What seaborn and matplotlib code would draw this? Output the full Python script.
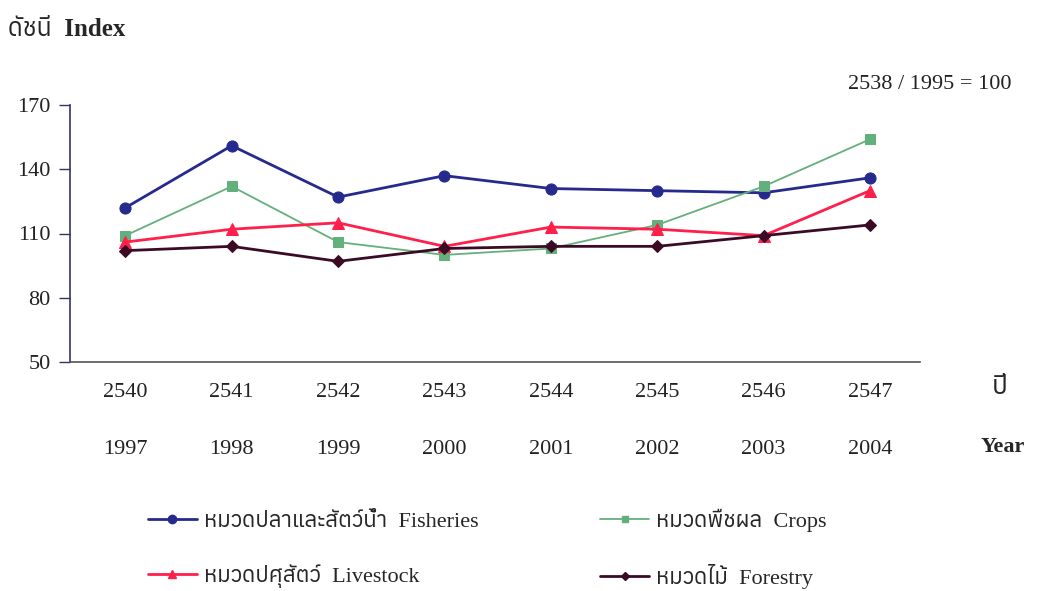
import matplotlib
matplotlib.use("Agg")
import matplotlib.pyplot as plt
import matplotlib.transforms as mtransforms
from matplotlib import font_manager
import seaborn as sns
import pandas as pd

# values (2538 / 1995 = 100)
years_be = [2540, 2541, 2542, 2543, 2544, 2545, 2546, 2547]
years_ad = [1997, 1998, 1999, 2000, 2001, 2002, 2003, 2004]
fisheries = [122, 151, 127, 137, 131, 130, 129, 136]
crops = [109, 132, 106, 100, 103, 114, 132, 154]
livestock = [106, 112, 115, 104, 113, 112, 109, 130]
forestry = [102, 104, 97, 103, 104, 104, 109, 114]

labels = {
    "fish": "หมวดปลาและสัตว์น้ำ  Fisheries",
    "crops": "หมวดพืชผล  Crops",
    "live": "หมวดปศุสัตว์  Livestock",
    "forest": "หมวดไม้  Forestry",
}
colors = {"fish": "#262a8c", "crops": "#63b07c", "live": "#ff1f4b", "forest": "#3b0b25"}
markers = {"fish": "o", "crops": "s", "live": "^", "forest": "D"}
widths = {"fish": 2.0, "crops": 1.3, "live": 2.0, "forest": 2.0}
msizes = {"fish": 8, "crops": 7, "live": 8, "forest": 6.5}

# look for a font that has Thai glyphs
thai = []
try:
    from fontTools.ttLib import TTFont
    for f in font_manager.fontManager.ttflist:
        try:
            tt = TTFont(f.fname, fontNumber=0, lazy=True)
            if 0x0E14 in tt.getBestCmap():
                thai.append(f.name)
        except Exception:
            pass
except Exception:
    pass
thai = sorted(set(thai))

df = pd.DataFrame({
    "year": years_ad * 4,
    "value": fisheries + crops + livestock + forestry,
    "group": ["fish"] * 8 + ["crops"] * 8 + ["live"] * 8 + ["forest"] * 8,
})

sns.set_style("white")
fams = ["Liberation Serif"] + thai + ["DejaVu Sans"]
plt.rcParams["font.family"] = fams

fig = plt.figure(figsize=(10.38, 5.91), dpi=100)
ax = fig.add_axes([70 / 1038, 1 - 362 / 591, 850 / 1038, 257 / 591])

sns.lineplot(data=df, x="year", y="value", hue="group", style="group",
             palette=colors, markers=markers, dashes=False, legend=False, ax=ax)
for line, g in zip(ax.lines, ["fish", "crops", "live", "forest"]):
    line.set_linewidth(widths[g])
    line.set_markersize(msizes[g])
    line.set_markeredgecolor(colors[g])

ax.set_xlim(1996.48, 2004.47)
ax.set_ylim(50, 170)
ax.set_yticks([50, 80, 110, 140, 170])
ax.tick_params(axis="y", direction="out", length=8, width=1, color="#333366",
               labelsize=16, pad=6, left=True)
ax.set_xticks(years_ad)
ax.set_xticklabels(years_be)
ax.tick_params(axis="x", length=0, labelsize=16, pad=15)
for lab in ax.get_xticklabels() + ax.get_yticklabels():
    lab.set_color("#222222")
ax.set_xlabel("")
ax.set_ylabel("")
for s in ["top", "right"]:
    ax.spines[s].set_visible(False)
ax.spines["left"].set_color("#333366")
ax.spines["bottom"].set_color("#555555")
ax.spines["bottom"].set_linewidth(1.2)
ax.spines["left"].set_linewidth(1.2)

# second row of year labels (A.D.)
trans = mtransforms.offset_copy(ax.get_xaxis_transform(), fig=fig, x=0, y=-87 * 0.72, units="points")
for y in years_ad:
    ax.text(y, 0, str(y), transform=trans, ha="center", va="center",
            fontsize=16, color="#222222")

fig.text(1000 / 1038, 1 - 386 / 591, "ปี", ha="center", va="center",
         fontsize=19, fontweight="bold", family=thai + ["DejaVu Sans"] if thai else ["DejaVu Sans"])
fig.text(1003 / 1038, 1 - 447 / 591, "Year", ha="center", va="center",
         fontsize=16, fontweight="bold")
fig.text(8 / 1038, 1 - 30 / 591, "ดัชนี  Index", ha="left", va="center",
         fontsize=18, fontweight="bold")
fig.text(1012 / 1038, 1 - 85 / 591, "2538 / 1995 = 100", ha="right", va="center",
         fontsize=16, color="#222222")

handles = [plt.Line2D([], [], color=colors[g], marker=markers[g], lw=widths[g],
                      markersize=msizes[g] - 2, markeredgecolor=colors[g])
           for g in ["fish", "live", "crops", "forest"]]
fig.legend(handles, [labels[g] for g in ["fish", "live", "crops", "forest"]],
           ncol=2, loc="center left", bbox_to_anchor=(128 / 1038, 1 - 549 / 591),
           frameon=False, fontsize=16, handlelength=2.2, handletextpad=0.3,
           columnspacing=5.5, labelspacing=1.45)

fig.savefig("out.png", dpi=100)
